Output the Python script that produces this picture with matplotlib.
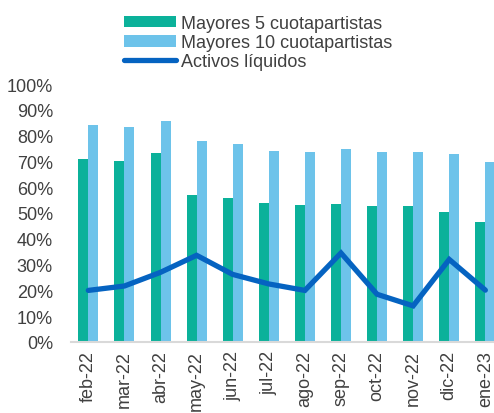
import matplotlib
matplotlib.use("Agg")
import matplotlib.pyplot as plt
import numpy as np

months = ["feb-22", "mar-22", "abr-22", "may-22", "jun-22", "jul-22",
          "ago-22", "sep-22", "oct-22", "nov-22", "dic-22", "ene-23"]
top5 = [70.9, 70.0, 73.2, 56.8, 56.0, 53.7, 53.1, 53.3, 52.7, 52.6, 50.5, 46.4]
top10 = [84.2, 83.5, 85.5, 77.8, 76.8, 74.0, 73.8, 75.0, 73.7, 73.7, 73.0, 69.9]
liquid = [20.0, 21.7, 27.0, 33.6, 26.2, 22.5, 20.0, 34.5, 18.5, 14.0, 32.0, 20.1]

plt.rcParams["font.family"] = ["Liberation Sans", "DejaVu Sans"]
fs = 13

fig = plt.figure(figsize=(4.94, 4.14), dpi=100)
ax = fig.add_axes([71 / 494, 1 - 343 / 414, 1 - 71 / 494, (343 - 85) / 414])

x = np.arange(len(months))
w = 0.277
b1 = ax.bar(x - w / 2, top5, w, color="#0BB19A")
b2 = ax.bar(x + w / 2, top10, w, color="#6DC3EA")
ln, = ax.plot(x, liquid, color="#0563C1", lw=3.8, solid_capstyle="round",
              solid_joinstyle="miter")

ax.set_ylim(0, 100)
ax.set_xlim(-0.48, 11.24)
ax.set_yticks(range(0, 101, 10))
ax.set_yticklabels([f"{v}%" for v in range(0, 101, 10)])
ax.set_xticks(x)
ax.set_xticklabels(months, rotation=90)
ax.tick_params(length=0, colors="#404040", labelsize=fs)
ax.tick_params(axis="y", pad=13)
ax.tick_params(axis="x", pad=6)
for s in ["top", "right", "left"]:
    ax.spines[s].set_visible(False)
ax.spines["bottom"].set_color("#D9D9D9")
ax.spines["bottom"].set_linewidth(1.5)

fig.legend([b1, b2, ln],
           ["Mayores 5 cuotapartistas", "Mayores 10 cuotapartistas", "Activos líquidos"],
           loc="upper left", bbox_to_anchor=(115 / 494, 1 - 7 / 414),
           frameon=False, handlelength=2.9, handleheight=0.6, handletextpad=0.25,
           labelspacing=0.12, borderpad=0, fontsize=fs,
           labelcolor="#404040")

fig.savefig("out.png", dpi=100)
plt.close(fig)
